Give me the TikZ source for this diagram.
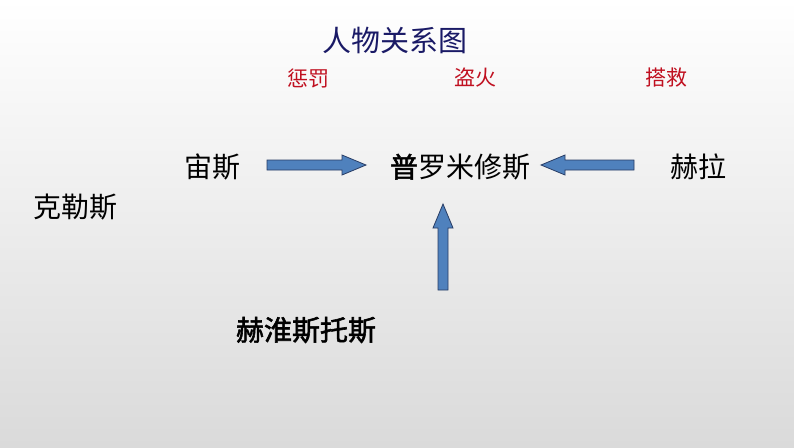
\documentclass[tikz,border=0pt]{standalone}
\usepackage{fontspec}
\newfontfamily\cjk[AutoFakeBold=2]{Noto Sans CJK SC}
\definecolor{titleblue}{RGB}{26,26,102}
\definecolor{labelred}{RGB}{192,16,32}
\definecolor{arrowfill}{RGB}{79,129,189}
\definecolor{arrowline}{RGB}{40,60,100}
\definecolor{bggray}{RGB}{218,218,218}
\tikzset{
  person/.style={inner sep=0pt, font=\cjk\fontsize{28}{30}\selectfont, text=black},
  relation/.style={inner sep=0pt, font=\cjk\fontsize{21}{23}\selectfont, text=labelred},
  blockarrow/.style={draw=arrowline, fill=arrowfill, line width=0.8pt, line join=miter}
}
\begin{document}
\begin{tikzpicture}[x=1pt,y=-1pt]
\shade[top color=white, bottom color=bggray] (0,0) rectangle (794,447);
\useasboundingbox (0,0) rectangle (794,447);
\node[inner sep=0pt, font=\cjk\fontsize{29}{31}\selectfont, text=titleblue] (title) at (395,40) {人物关系图};
\node[relation] (punish) at (308,78) {惩罚};
\node[relation] (fire) at (475,78) {盗火};
\node[relation] (rescue) at (666,78) {搭救};
\node[person] (zeus) at (212,167) {宙斯};
\node[person] (prom) at (460,167) {{\bfseries 普}罗米修斯};
\node[person] (hera) at (698,167) {赫拉};
\node[person] (kratos) at (75,207) {克勒斯};
\node[person, font=\cjk\bfseries\fontsize{28}{30}\selectfont] (heph) at (306,330) {赫淮斯托斯};
\draw[blockarrow] (267,160) -- (342,160) -- (342,155) -- (366,165) -- (342,175) -- (342,170) -- (267,170) -- cycle;
\draw[blockarrow] (634,160) -- (565,160) -- (565,155) -- (541,165) -- (565,175) -- (565,170) -- (634,170) -- cycle;
\draw[blockarrow] (438,290) -- (438,228) -- (433,228) -- (443,204) -- (453,228) -- (448,228) -- (448,290) -- cycle;
\end{tikzpicture}
\end{document}
